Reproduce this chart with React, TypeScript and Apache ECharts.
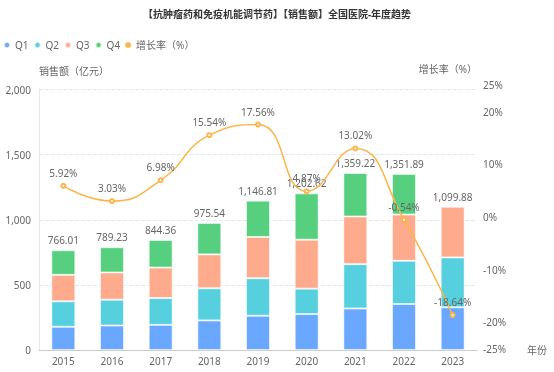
import React, { useEffect, useRef } from "react";
import * as echarts from "echarts";

const years = ["2015", "2016", "2017", "2018", "2019", "2020", "2021", "2022", "2023"];
const q1 = [178, 188, 193, 227, 263, 276, 319, 353, 328];
const q2 = [196, 198, 206, 247, 288, 195, 340, 332, 383];
const q3 = [203, 209, 234, 260, 317, 376, 366, 355, 388.88];
const q4: (number | null)[] = [189.01, 194.23, 211.36, 241.54, 278.81, 355.62, 334.22, 311.89, null];
const totals = [766.01, 789.23, 844.36, 975.54, 1146.81, 1202.62, 1359.22, 1351.89, 1099.88];
const growth = [5.92, 3.03, 6.98, 15.54, 17.56, 4.87, 13.02, -0.54, -18.64];
const leftTicks = { min: 0, max: 2000, interval: 500 };
const rightTicks = { min: -25, max: 25 };

const FONT = "'Noto Sans', 'Noto Sans CJK SC', sans-serif";
const colors = ["#6AA8FF", "#56D0DF", "#FDAA8D", "#56D07F", "#FCB54C"];

export default function App() {
  const ref = useRef<HTMLDivElement>(null);
  useEffect(() => {
    if (!ref.current) return;
    const chart = echarts.init(ref.current, null, { renderer: "svg" });
    const barStyle = (c: string) => ({
      color: c,
      borderColor: "rgba(255,255,255,0.6)",
      borderWidth: 1,
    });
    const fmt = (v: number) =>
      v.toLocaleString("en-US", { minimumFractionDigits: 2, maximumFractionDigits: 2 });
    chart.setOption({
      animation: false,
      textStyle: { fontFamily: FONT },
      title: {
        text: "【抗肿瘤药和免疫机能调节药】【销售额】全国医院-年度趋势",
        left: "center",
        top: 9,
        padding: 0,
        textStyle: { fontSize: 10, fontWeight: "bold", color: "#333", fontFamily: FONT },
      },
      legend: {
        left: 3,
        top: 40,
        padding: 0,
        itemWidth: 6,
        itemHeight: 6,
        itemGap: 5,
        icon: "circle",
        data: ["Q1", "Q2", "Q3", "Q4", "增长率（%）"],
        textStyle: { fontSize: 10, color: "#666", fontFamily: FONT },
      },
      grid: [
        { left: 39, right: 77, top: 89.5, bottom: 22 },
        { left: 39, right: 77, top: 85.4, bottom: 23.4 },
      ],
      xAxis: [
        {
          type: "category",
          data: years,
          name: "年份",
          nameGap: 50,
          nameTextStyle: { fontSize: 10, color: "#666" },
          axisLine: { lineStyle: { color: "#ccc" } },
          axisTick: { lineStyle: { color: "#ccc" } },
          axisLabel: { fontSize: 10, color: "#666", margin: 6 },
        },
        { type: "category", gridIndex: 1, data: years, show: false },
      ],
      yAxis: [
        {
          type: "value",
          name: "销售额（亿元）",
          nameGap: 14,
          nameTextStyle: { fontSize: 10, color: "#666", align: "left" },
          min: leftTicks.min,
          max: leftTicks.max,
          interval: leftTicks.interval,
          axisLine: { show: true, lineStyle: { color: "#e3e8ee" } },
          axisLabel: { fontSize: 10, color: "#666" },
          splitLine: { lineStyle: { type: "dashed", color: "#E3E6F0" } },
        },
        {
          type: "value",
          gridIndex: 1,
          position: "right",
          name: "增长率（%）",
          nameGap: 11,
          nameTextStyle: { fontSize: 10, color: "#666", align: "right", padding: [0, 0, 0, 0] },
          min: rightTicks.min,
          max: rightTicks.max,
          splitNumber: 5,
          axisLine: { show: false },
          axisTick: { show: false },
          axisLabel: { fontSize: 10, color: "#666", formatter: "{value}%", margin: 6 },
          splitLine: { show: false },
        },
      ],
      series: [
        { name: "Q1", type: "bar", stack: "s", barWidth: 24, data: q1, itemStyle: barStyle(colors[0]) },
        { name: "Q2", type: "bar", stack: "s", barWidth: 24, data: q2, itemStyle: barStyle(colors[1]) },
        { name: "Q3", type: "bar", stack: "s", barWidth: 24, data: q3, itemStyle: barStyle(colors[2]) },
        { name: "Q4", type: "bar", stack: "s", barWidth: 24, data: q4, itemStyle: barStyle(colors[3]) },
        {
          name: "合计",
          type: "bar",
          stack: "s",
          barWidth: 24,
          data: totals.map(() => 0),
          itemStyle: { color: "transparent" },
          label: {
            show: true,
            position: "top",
            fontSize: 10,
            color: "#666",
            formatter: (p: any) => fmt(totals[p.dataIndex]),
          },
        },
        {
          name: "增长率（%）",
          type: "line",
          xAxisIndex: 1,
          yAxisIndex: 1,
          smooth: true,
          symbol: "emptyCircle",
          symbolSize: 4,
          data: growth,
          itemStyle: { color: colors[4] },
          lineStyle: { color: colors[4], width: 1.5 },
          label: {
            show: true,
            position: "top",
            fontSize: 10,
            color: "#666",
            formatter: "{c}%",
          },
        },
      ],
    });
    return () => chart.dispose();
  }, []);
  return (
    <div
      ref={ref}
      style={{ position: "fixed", left: 0, top: 0, width: 554, height: 372 }}
    />
  );
}
